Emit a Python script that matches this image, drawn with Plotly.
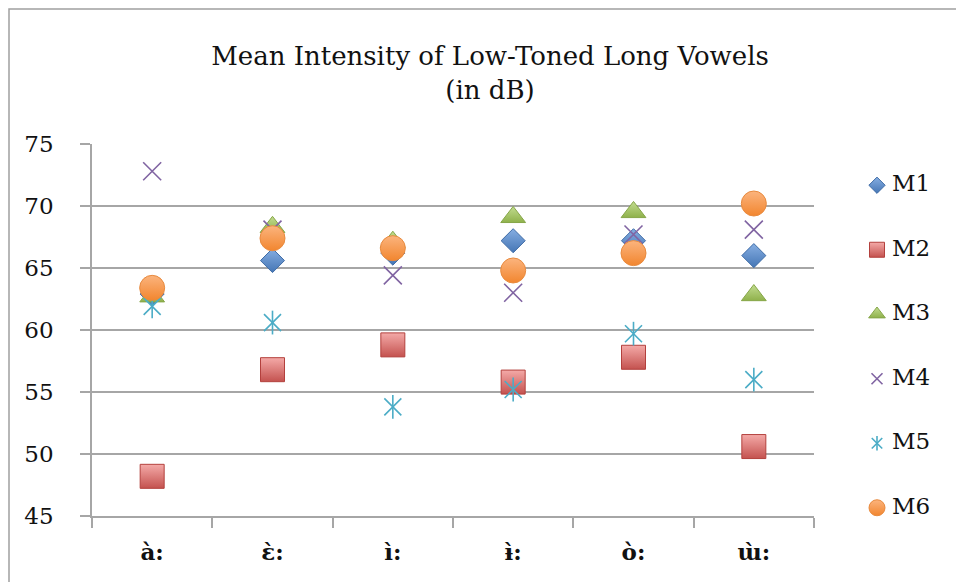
import plotly.graph_objects as go

# Vowel categories on the x axis
vowels = ["à:", "ɛ̀:", "ì:", "ɨ̀:", "ò:", "ɯ̀:"]

# Mean intensity per speaker (dB)
m1 = [62.9, 65.6, 66.2, 67.2, 67.2, 66.0]
m2 = [48.2, 56.8, 58.8, 55.8, 57.8, 50.6]
m3 = [62.7, 68.3, 67.1, 69.1, 69.5, 62.8]
m4 = [72.8, 68.1, 64.4, 63.0, 67.7, 68.1]
m5 = [61.9, 60.6, 53.8, 55.2, 59.7, 56.0]
m6 = [63.4, 67.4, 66.6, 64.8, 66.2, 70.2]

speakers = ["M1", "M2", "M3", "M4", "M5", "M6"]
y_ticks = [45, 50, 55, 60, 65, 70, 75]

W, H = 956, 582
FONT = "DejaVu Serif"
GRID = "#a6a6a6"
TEXT = "#111111"

# Marker styles: symbol, size in plot, size in key, fill, gradient end, outline
styles = {
    "M1": dict(symbol="diamond", size=18.5, key=12.5, fill="#86aee2", grad="#4576b5", line="#3f6ca6"),
    "M2": dict(symbol="square", size=24, key=15, fill="#f4aaa8", grad="#c4524f", line="#b3403d"),
    "M3": dict(symbol="triangle-up", size=21.5, key=14.5, fill="#c2dc90", grad="#8fb14b", line="#86a648"),
    "M4": dict(symbol="x-thin-open", size=18, key=11, fill="#8064a2", grad=None, line="#8064a2"),
    "M5": dict(symbol="x-thin-open", size=17, key=10.5, fill="#4bacc6", grad=None, line="#4bacc6"),
    "M6": dict(symbol="circle", size=25, key=16, fill="#fbb47e", grad="#f2862f", line="#e88a3e"),
}
series = {"M1": m1, "M2": m2, "M3": m3, "M4": m4, "M5": m5, "M6": m6}


def marker_for(name, size):
    st = styles[name]
    if st["grad"] is None:
        return dict(symbol=st["symbol"], size=size, color=st["line"],
                    line=dict(color=st["line"], width=1.6))
    return dict(symbol=st["symbol"], size=size, color=st["fill"],
                gradient=dict(type="vertical", color=st["grad"]),
                line=dict(color=st["line"], width=1))


def star_stroke(name, size):
    # vertical stroke that turns the X into a six-armed star
    return dict(symbol="line-ns-open", size=size, color=styles[name]["line"],
                line=dict(color=styles[name]["line"], width=1.6))


fig = go.Figure()

for name in speakers:
    fig.add_trace(go.Scatter(
        x=vowels, y=series[name], mode="markers", name=name,
        marker=marker_for(name, styles[name]["size"]),
        showlegend=False, hoverinfo="x+y+name", cliponaxis=False,
    ))
    if name == "M5":
        fig.add_trace(go.Scatter(
            x=vowels, y=series[name], mode="markers", name=name,
            marker=star_stroke(name, 17),
            showlegend=False, hoverinfo="skip", cliponaxis=False,
        ))

# Key on the right, drawn on its own small axes (1 unit = 1 px)
KEY_TEXT_X = 15
for i, name in enumerate(speakers):
    fig.add_trace(go.Scatter(
        x=[0], y=[i], mode="markers", xaxis="x2", yaxis="y2",
        marker=marker_for(name, styles[name]["key"]),
        showlegend=False, hoverinfo="skip", cliponaxis=False,
    ))
    if name == "M5":
        fig.add_trace(go.Scatter(
            x=[0], y=[i], mode="markers", xaxis="x2", yaxis="y2",
            marker=star_stroke(name, 10.5),
            showlegend=False, hoverinfo="skip", cliponaxis=False,
        ))
fig.add_trace(go.Scatter(
    x=[KEY_TEXT_X] * len(speakers), y=list(range(len(speakers))), mode="text",
    text=speakers, textposition="middle right", xaxis="x2", yaxis="y2",
    textfont=dict(family=FONT, size=23, color=TEXT),
    showlegend=False, hoverinfo="skip", cliponaxis=False,
))

fig.update_layout(
    width=W, height=H,
    margin=dict(l=0, r=0, t=0, b=0),
    paper_bgcolor="white", plot_bgcolor="white",
    showlegend=False,
    title=dict(
        text="Mean Intensity of Low-Toned Long Vowels<br>(in dB)",
        x=490 / W, xref="container", xanchor="center",
        y=1 - 65 / H, yref="container", yanchor="top",
        font=dict(family=FONT, size=26, color=TEXT),
        automargin=False,
    ),
    xaxis=dict(
        domain=[92 / W, 814 / W], automargin=False,
        type="category", tickson="boundaries",
        range=[-0.5, len(vowels) - 0.5],
        ticks="outside", ticklen=10, tickcolor=GRID, tickwidth=1.5,
        showline=True, linecolor=GRID, linewidth=1.5,
        showgrid=False, zeroline=False,
        tickfont=dict(family=FONT, size=23, color=TEXT, weight="bold"),
        ticklabelstandoff=15,
    ),
    yaxis=dict(
        domain=[(H - 516) / H, (H - 144) / H], automargin=False,
        range=[45, 75], tickvals=y_ticks,
        ticks="outside", ticklen=10, tickcolor=GRID, tickwidth=1.5,
        showline=True, linecolor=GRID, linewidth=1.5,
        showgrid=True, gridcolor=GRID, gridwidth=1.5, zeroline=False,
        tickfont=dict(family=FONT, size=23, color=TEXT),
        ticklabelstandoff=22,
    ),
    xaxis2=dict(
        domain=[860 / W, 950 / W], range=[-17, 73], anchor="y2",
        visible=False, fixedrange=True, automargin=False,
    ),
    yaxis2=dict(
        domain=[(H - 540) / H, (H - 153) / H], range=[5.5, -0.5], anchor="x2",
        visible=False, fixedrange=True, automargin=False,
    ),
    shapes=[dict(
        type="rect", xref="paper", yref="paper",
        x0=9 / W, x1=1.1, y0=-0.1, y1=1 - 9 / H,
        line=dict(color="#a0a0a0", width=1.5), fillcolor="rgba(0,0,0,0)",
        layer="below",
    )],
)

fig.write_html("out.html")
